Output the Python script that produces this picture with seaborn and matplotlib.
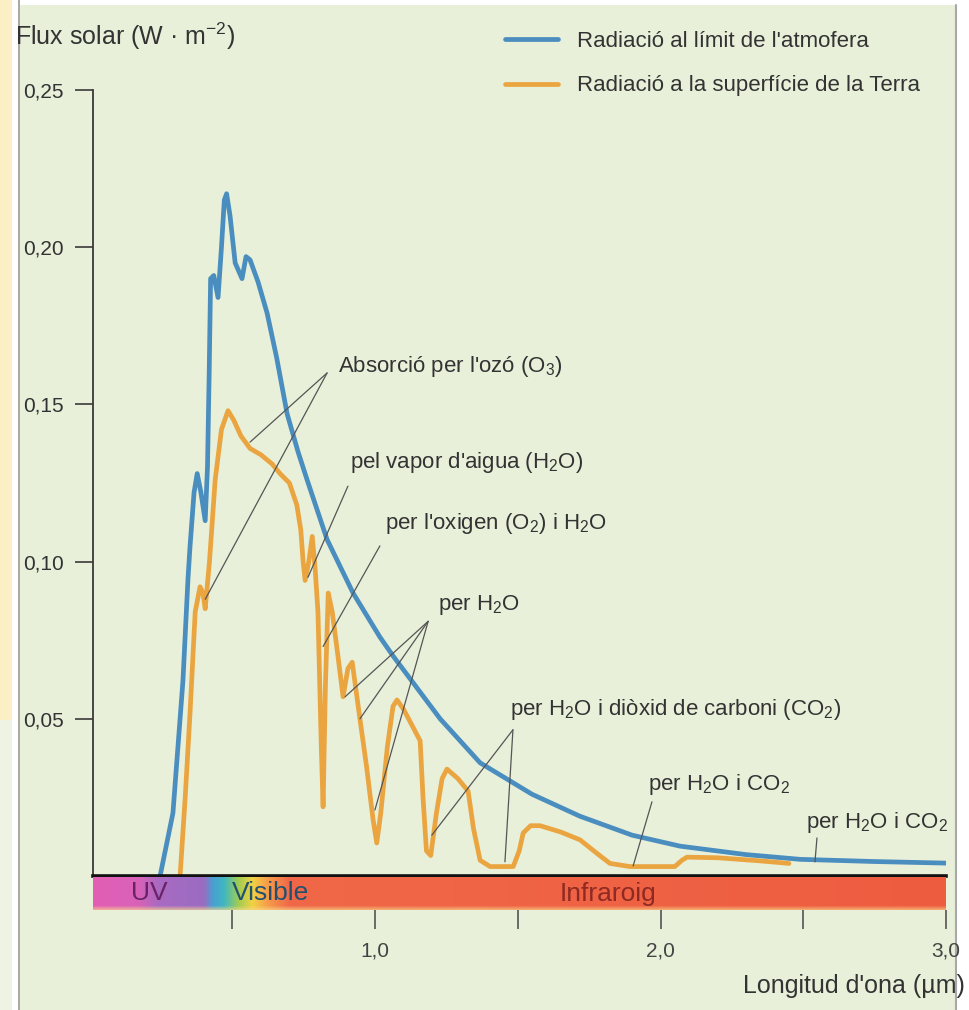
import numpy as np
import pandas as pd
import matplotlib
matplotlib.use("Agg")
import matplotlib.pyplot as plt
from matplotlib.patches import Rectangle
from matplotlib.lines import Line2D
from matplotlib.colors import to_rgb
import seaborn as sns

# ---------------- data ----------------
wl_top = [0.247, 0.292, 0.327, 0.345, 0.352, 0.366, 0.377, 0.390, 0.405, 0.413,
          0.419, 0.424, 0.435, 0.450, 0.462, 0.472, 0.480, 0.492, 0.510, 0.534,
          0.548, 0.562, 0.590, 0.622, 0.655, 0.692, 0.730, 0.762, 0.832, 0.923,
          1.017, 1.063, 1.228, 1.368, 1.550, 1.718, 1.900, 2.068, 2.300, 2.489,
          2.750, 3.000]
flux_top = [0.000, 0.020, 0.062, 0.095, 0.105, 0.122, 0.128, 0.122, 0.113, 0.130,
            0.160, 0.190, 0.191, 0.184, 0.200, 0.215, 0.217, 0.210, 0.195, 0.190,
            0.197, 0.196, 0.189, 0.179, 0.165, 0.147, 0.135, 0.126, 0.107, 0.090,
            0.076, 0.070, 0.050, 0.036, 0.026, 0.019, 0.013, 0.0095, 0.0068, 0.0053,
            0.0046, 0.0041]

wl_surf = [0.317, 0.335, 0.352, 0.370, 0.387, 0.397, 0.405, 0.420, 0.440, 0.462,
           0.485, 0.505, 0.530, 0.562, 0.600, 0.640, 0.667, 0.700, 0.726, 0.740,
           0.748, 0.755, 0.768, 0.780, 0.790, 0.800, 0.812, 0.818, 0.826, 0.836,
           0.850, 0.870, 0.888, 0.905, 0.920, 0.935, 0.947, 0.970, 0.993, 1.006,
           1.020, 1.043, 1.063, 1.077, 1.100, 1.158, 1.168, 1.180, 1.195, 1.215,
           1.235, 1.252, 1.290, 1.326, 1.345, 1.368, 1.403, 1.484, 1.505, 1.519,
           1.545, 1.578, 1.650, 1.718, 1.780, 1.823, 1.893, 2.050, 2.075, 2.093,
           2.200, 2.350, 2.450]
flux_surf = [0.000, 0.025, 0.052, 0.084, 0.092, 0.090, 0.085, 0.100, 0.126, 0.142,
             0.148, 0.145, 0.140, 0.136, 0.134, 0.131, 0.128, 0.125, 0.118, 0.110,
             0.100, 0.094, 0.100, 0.108, 0.098, 0.084, 0.040, 0.022, 0.060, 0.090,
             0.084, 0.070, 0.057, 0.066, 0.068, 0.058, 0.050, 0.035, 0.018, 0.0105,
             0.020, 0.041, 0.054, 0.056, 0.053, 0.043, 0.025, 0.008, 0.0065, 0.020,
             0.031, 0.034, 0.031, 0.027, 0.015, 0.005, 0.003, 0.003, 0.008, 0.0137,
             0.016, 0.016, 0.014, 0.0115, 0.007, 0.004, 0.003, 0.003, 0.005, 0.006,
             0.0058, 0.0048, 0.0040]

series_names = ["Radiació al límit de l'atmofera",
                "Radiació a la superfície de la Terra"]
y_ticks = [0.05, 0.10, 0.15, 0.20, 0.25]
y_ticklabels = ["0,05", "0,10", "0,15", "0,20", "0,25"]
x_ticks = [0.5, 1.0, 1.5, 2.0, 2.5, 3.0]
x_ticklabels = ["", "1,0", "", "2,0", "", "3,0"]
band_labels = ["UV", "Visible", "Infraroig"]
band_label_x = [0.21, 0.50, 1.816]

ann_texts = [r"Absorció per l'ozó (O$_3$)",
             r"pel vapor d'aigua (H$_2$O)",
             r"per l'oxigen (O$_2$) i H$_2$O",
             r"per H$_2$O",
             r"per H$_2$O i diòxid de carboni (CO$_2$)",
             r"per H$_2$O i CO$_2$",
             r"per H$_2$O i CO$_2$"]
ann_text_xy = [(0.870, 0.162), (0.912, 0.1315), (1.035, 0.112), (1.221, 0.0863),
               (1.473, 0.0529), (1.956, 0.029), (2.51, 0.0169)]
ann_apex = [(0.832, 0.160), (0.905, 0.124), (1.017, 0.105), (1.186, 0.081),
            (1.483, 0.0465), (1.970, 0.0236), (2.548, 0.0121)]
ann_targets = [[(0.562, 0.138), (0.405, 0.088)],
               [(0.765, 0.095)],
               [(0.818, 0.073)],
               [(0.895, 0.057), (0.947, 0.050), (0.9996, 0.021)],
               [(1.199, 0.013), (1.455, 0.0045)],
               [(1.904, 0.0032)],
               [(2.541, 0.0045)]]

# ---------------- style ----------------
sns.set_theme(style="white")
plt.rcParams["font.family"] = ["Liberation Sans", "DejaVu Sans"]
plt.rcParams["mathtext.default"] = "regular"

W, H = 970, 1010
fig = plt.figure(figsize=(W / 100, H / 100), dpi=100)
fig.patch.set_facecolor("white")

BG = "#e8f0da"
fig.add_artist(Rectangle((20 / W, 0), (956 - 20) / W, (H - 5) / H,
                         transform=fig.transFigure, color=BG, zorder=-10, lw=0))
fig.add_artist(Rectangle((0, (H - 720) / H), 12 / W, 720 / H,
                         transform=fig.transFigure, color="#fcefc6", zorder=-9, lw=0))
fig.add_artist(Rectangle((0, 0), 12 / W, (H - 720) / H,
                         transform=fig.transFigure, color="#eef3e4", zorder=-9, lw=0))
fig.add_artist(Line2D([19 / W, 19 / W], [0, 1], transform=fig.transFigure,
                      color="#9a9a90", lw=1.2, zorder=-8))
fig.add_artist(Line2D([956 / W, 956 / W], [0, 1 - 5 / H], transform=fig.transFigure,
                      color="#a8a8a8", lw=1.5, zorder=-8))

x0_px, x1_px = 93, 946
y0_px, y1_px = 876, 90
XMIN, XMAX = 0.012, 3.0
ax = fig.add_axes([x0_px / W, (H - y0_px) / H, (x1_px - x0_px) / W, (y0_px - y1_px) / H])
ax.set_facecolor("none")

df = pd.concat([
    pd.DataFrame({"wl": wl_top, "flux": flux_top, "serie": series_names[0]}),
    pd.DataFrame({"wl": wl_surf, "flux": flux_surf, "serie": series_names[1]}),
])
palette = {series_names[0]: "#4a8dbf", series_names[1]: "#eaa540"}
sns.lineplot(data=df, x="wl", y="flux", hue="serie", palette=palette,
             estimator=None, sort=False, linewidth=3.4, ax=ax, legend=True,
             solid_capstyle="round", solid_joinstyle="round")

ax.set_xlim(XMIN, XMAX)
ax.set_ylim(0, 0.25)
for s in ["top", "right"]:
    ax.spines[s].set_visible(False)
ax.spines["left"].set_color("#3a3a3a")
ax.spines["left"].set_linewidth(1.3)
ax.spines["bottom"].set_color("#111111")
ax.spines["bottom"].set_linewidth(2.6)
ax.set_yticks(y_ticks)
ax.set_yticklabels(y_ticklabels)
ax.tick_params(axis="y", direction="out", length=13, width=1.2, color="#3a3a3a",
               pad=8, labelsize=15, labelcolor="#333333", left=True)
ax.set_xticks([])
ax.set_xlabel("")
ax.set_ylabel("")

# legend
leg = ax.legend(loc="upper left", bbox_to_anchor=(505 / W, 1 - 31 / H),
                bbox_transform=fig.transFigure, frameon=False, fontsize=16,
                handlelength=2.4, handletextpad=0.85, labelspacing=1.05,
                borderpad=0, borderaxespad=0)
for t in leg.get_texts():
    t.set_color("#333333")

# annotations
for txt, (tx, ty), apex, targets in zip(ann_texts, ann_text_xy, ann_apex, ann_targets):
    ax.text(tx, ty, txt, fontsize=16, color="#333333", ha="left", va="center")
    for (gx, gy) in targets:
        ax.plot([apex[0], gx], [apex[1], gy], color="#555555", lw=0.9, zorder=3)

# spectral band
band_top_px, band_bot_px = 877, 910
bax = fig.add_axes([x0_px / W, (H - band_bot_px) / H, (x1_px - x0_px) / W,
                    (band_bot_px - band_top_px) / H])
stops = [(XMIN, "#e35eb5"), (0.17, "#d862b8"), (0.24, "#a96ac2"), (0.40, "#9a6cc2"),
         (0.43, "#4a9fd2"), (0.47, "#3fb7c2"), (0.52, "#a0cc52"), (0.57, "#f1d244"),
         (0.62, "#f79e4a"), (0.70, "#f06848"), (XMAX, "#ee5c40")]
xs = np.linspace(XMIN, XMAX, 800)
sx = [p for p, _ in stops]
cols = np.array([to_rgb(c) for _, c in stops])
row = np.stack([np.interp(xs, sx, cols[:, k]) for k in range(3)], axis=-1)
nrows = 40
img = np.repeat(row[None, :, :], nrows, axis=0)
fringe = np.array(to_rgb("#f9d98c"))
for r in range(nrows - 6, nrows):
    f = (r - (nrows - 6)) / 6 * 0.75
    img[r] = img[r] * (1 - f) + fringe * f
bax.imshow(img, extent=(XMIN, XMAX, 0, 1), aspect="auto", origin="upper")
bax.set_xlim(XMIN, XMAX)
bax.set_ylim(0, 1)
for s in bax.spines.values():
    s.set_visible(False)
bax.set_yticks([])
bax.set_xticks(x_ticks)
bax.set_xticklabels(x_ticklabels)
bax.tick_params(axis="x", direction="out", length=14, width=1.2, color="#555555",
                pad=9, labelsize=15, labelcolor="#444444", bottom=True)
band_colors = ["#6b2165", "#22506e", "#8e2a22"]
band_ha = ["center", "left", "center"]
for lab, bx, bc, ha in zip(band_labels, band_label_x, band_colors, band_ha):
    bax.text(bx, 0.5, lab, color=bc, fontsize=19, ha=ha, va="center")

fig.text(15 / W, 1 - 36 / H, r"Flux solar (W · m$^{-2}$)", fontsize=18,
         color="#333333", ha="left", va="center")
fig.text(965 / W, 1 - 986 / H, "Longitud d'ona (µm)", fontsize=18,
         color="#333333", ha="right", va="center")

fig.savefig("out.png", dpi=100, facecolor=fig.get_facecolor())
